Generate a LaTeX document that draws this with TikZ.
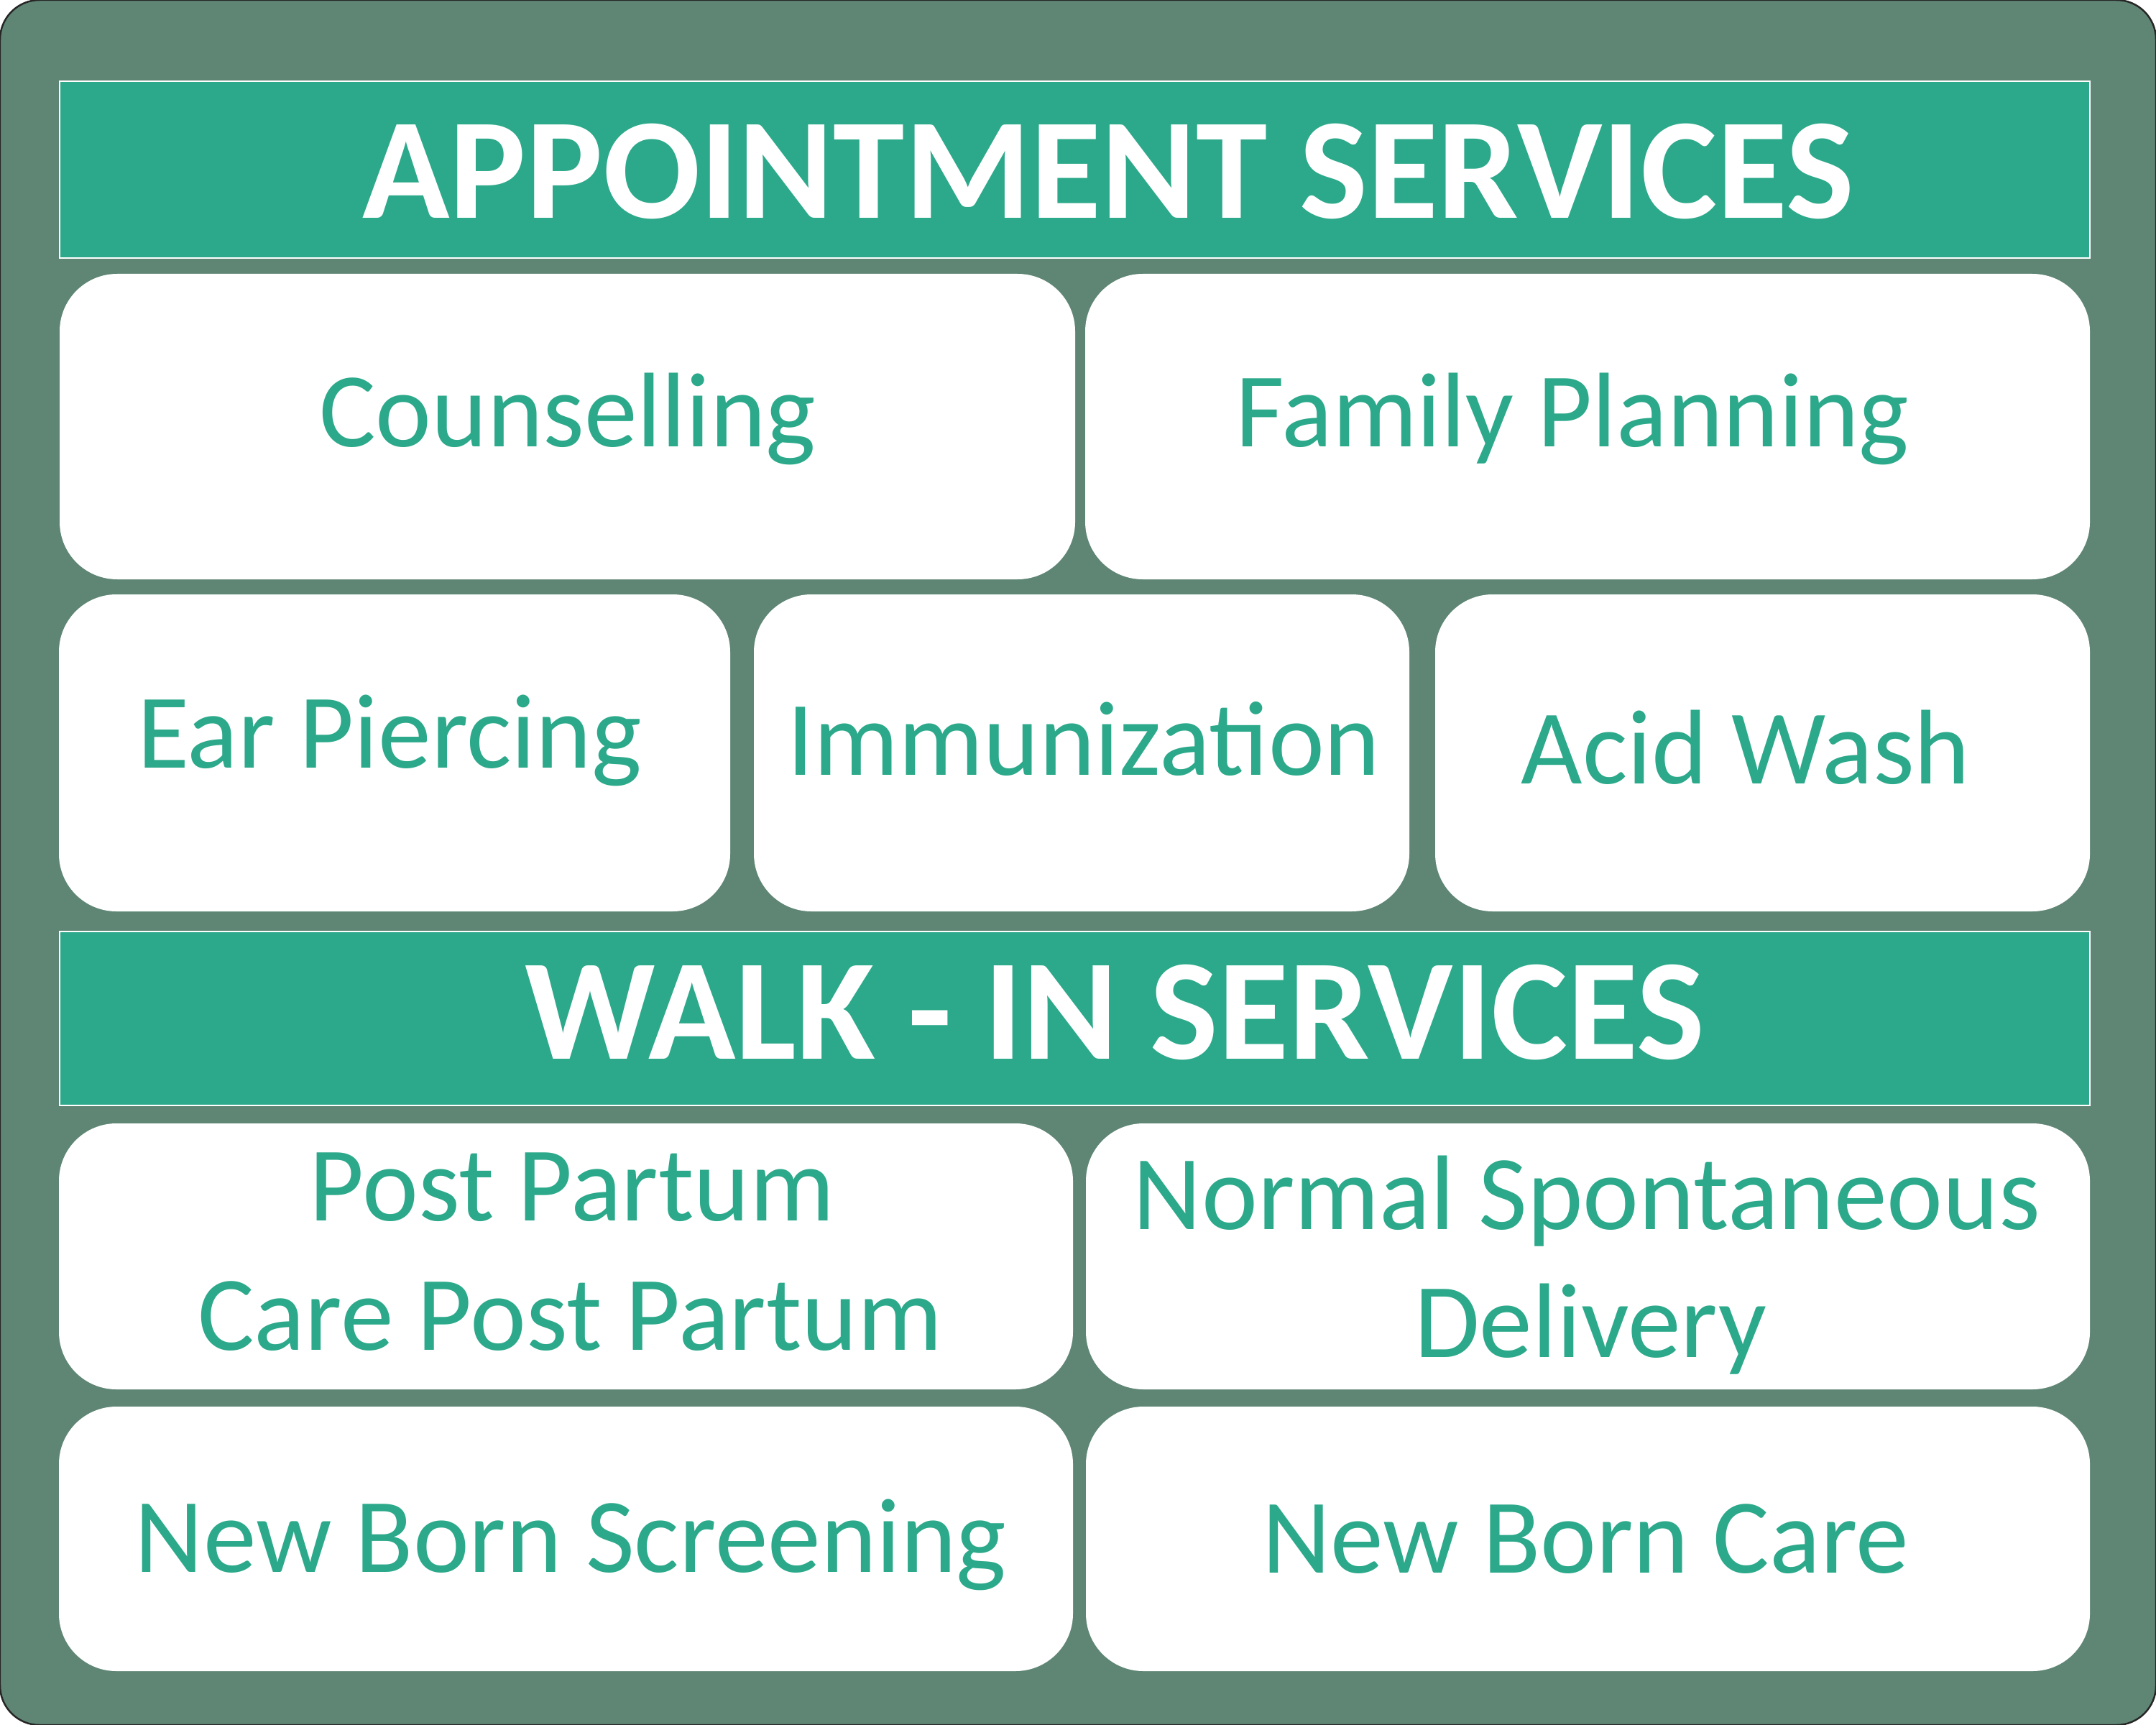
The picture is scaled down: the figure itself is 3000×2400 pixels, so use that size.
\documentclass[tikz,border=0pt]{standalone}
\usepackage{fontspec}
\setmainfont{Carlito}
\definecolor{framegreen}{RGB}{95,134,117}
\definecolor{svteal}{RGB}{44,169,138}
\begin{document}
\begin{tikzpicture}[x=0.1mm,y=-0.1mm,
  frame/.style={draw=black!85, line width=0.7pt, fill=framegreen, rounded corners=5.5mm, inner sep=0, minimum width=300mm, minimum height=240mm},
  hdr/.style n args={2}{draw=white, line width=0.8pt, fill=svteal, inner sep=0, minimum width=#1*0.1mm, minimum height=#2*0.1mm},
  card/.style n args={2}{fill=white, draw=none, rounded corners=8mm, inner sep=0, minimum width=#1*0.1mm, minimum height=#2*0.1mm},
  hdrtext/.style={text=white, font=\fontsize{57}{68}\selectfont\bfseries, anchor=base, inner sep=0},
  cardtext/.style={text=svteal, font=\fontsize{42}{51}\selectfont, anchor=base, inner sep=0}]
\useasboundingbox (0,0) rectangle (3000,2400);
\node[frame] (frm) at (1500,1200) {};
% headers
\node[hdr={2825}{246}] (hA) at (1495.5,236) {};
\node[hdr={2825}{242}] (hB) at (1495.5,1417) {};
% row 1
\node[card={1413}{425}] (cns) at (789.5,593.5) {};
\node[card={1398}{425}] (fpl) at (2209,593.5) {};
% row 2
\node[card={934}{441}] (ear) at (549,1047.5) {};
\node[card={912}{441}] (imm) at (1505,1047.5) {};
\node[card={911}{441}] (acw) at (2452.5,1047.5) {};
% row 3
\node[card={1411}{370}] (ppc) at (787.5,1748) {};
\node[card={1397}{370}] (nsd) at (2209.5,1748) {};
% row 4
\node[card={1411}{368}] (nbs) at (787.5,2141) {};
\node[card={1397}{368}] (nbc) at (2209.5,2141) {};
% texts
\node[hdrtext] (tA) at (1542,304) {APPOINTMENT SERVICES};
\node[hdrtext] (tB) at (1551,1473) {WALK - IN SERVICES};
\node[cardtext] (tcns) at (790,621) {Counselling};
\node[cardtext] (tfpl) at (2188,621) {Family Planning};
\node[cardtext] (tear) at (542,1068) {Ear Piercing};
\node[cardtext] (timm) at (1508,1078) {Immunization};
\node[cardtext] (tacw) at (2429,1090) {Acid Wash};
\node[cardtext] (tppa) at (796,1698) {Post Partum};
\node[cardtext] (tppb) at (793,1878) {Care Post Partum};
\node[cardtext] (tnsa) at (2208,1710) {Normal Spontaneous};
\node[cardtext] (tnsb) at (2213,1888) {Delivery};
\node[cardtext] (tnbs) at (794,2187) {New Born Screening};
\node[cardtext] (tnbc) at (2206,2188) {New Born Care};
\end{tikzpicture}
\end{document}
